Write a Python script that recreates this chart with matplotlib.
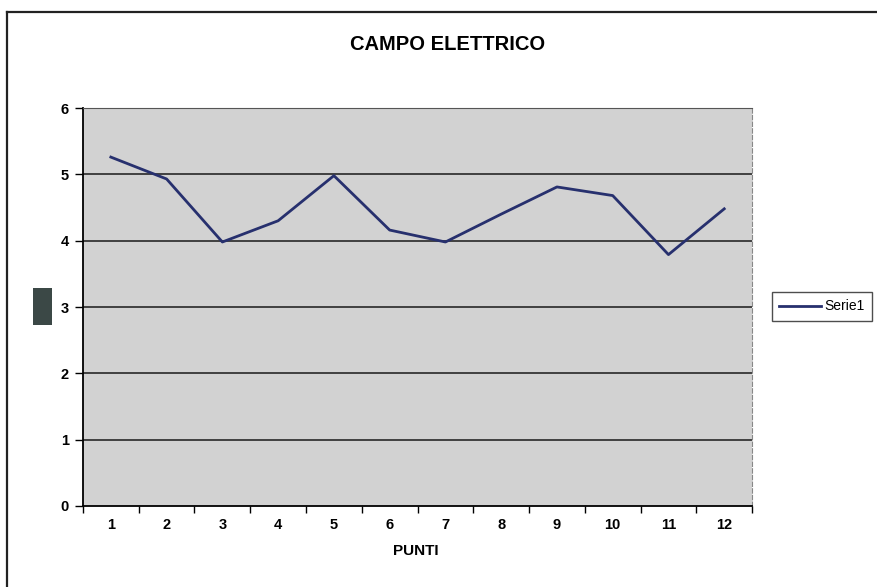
import numpy as np
import matplotlib.pyplot as plt
from matplotlib.patches import Rectangle
from matplotlib.lines import Line2D

plt.rcParams['font.family'] = ['Liberation Sans', 'DejaVu Sans']

punti = [1, 2, 3, 4, 5, 6, 7, 8, 9, 10, 11, 12]
serie1 = [5.26, 4.93, 3.98, 4.30, 4.98, 4.16, 3.98, 4.40, 4.81, 4.68, 3.79, 4.48]
y_ticks = [0, 1, 2, 3, 4, 5, 6]

fig = plt.figure(figsize=(8.77, 5.87), dpi=100)
ax = fig.add_axes([0.0946, 0.138, 0.763, 0.678])
ax.set_facecolor('#d2d2d2')

# horizontal grid
for v in y_ticks[1:-1]:
    ax.axhline(v, color='#1a1a1a', lw=1.1, zorder=1)

ax.plot(punti, serie1, color='#27306e', lw=2.0, zorder=3, label='Serie1')

ax.set_xlim(0.5, 12.5)
ax.set_ylim(0, 6)
ax.set_yticks(y_ticks)
ax.set_xticks(punti)
ax.set_xticks(np.arange(0.5, 13, 1), minor=True)
ax.tick_params(axis='x', which='major', length=0, pad=9, labelsize=10.5)
ax.tick_params(axis='x', which='minor', length=5, width=1.0, direction='out')
ax.tick_params(axis='y', length=6, width=1.0, direction='out', pad=4, labelsize=10.5)
for lab in ax.get_xticklabels() + ax.get_yticklabels():
    lab.set_fontweight('bold')

ax.spines['left'].set_linewidth(1.3)
ax.spines['bottom'].set_linewidth(1.3)
ax.spines['top'].set_color('#555555')
ax.spines['top'].set_linestyle((0, (6, 1)))
ax.spines['right'].set_color('#888888')
ax.spines['right'].set_linestyle((0, (4, 2)))
ax.spines['right'].set_linewidth(0.8)

xl = ax.set_xlabel('PUNTI', fontsize=11, fontweight='bold')
xl.set_fontstretch('expanded')
ax.xaxis.set_label_coords(0.498, -0.095)
fig.text(0.510, 1 - 45 / 587, 'CAMPO ELETTRICO', ha='center', va='center',
         fontsize=14.5, fontweight='bold')

leg = ax.legend(loc='center', bbox_to_anchor=(0.937, 0.478),
                bbox_transform=fig.transFigure, frameon=True, fancybox=False,
                fontsize=10, handlelength=3.0, handletextpad=0.2,
                borderpad=0.55, borderaxespad=0)
leg.get_frame().set_edgecolor('#222222')
leg.get_frame().set_linewidth(1.0)

# dark block on the left
fig.add_artist(Rectangle((33 / 877, 1 - 325 / 587), 19 / 877, 37 / 587,
                         transform=fig.transFigure, facecolor='#3b4846',
                         edgecolor='none'))

# chart frame
fig.add_artist(Line2D([7 / 877, 7 / 877], [0, 1 - 12 / 587],
                      transform=fig.transFigure, color='#222222', lw=1.6))
fig.add_artist(Line2D([7 / 877, 1], [1 - 12 / 587, 1 - 12 / 587],
                      transform=fig.transFigure, color='#222222', lw=1.6))

fig.savefig('out.png', dpi=100, facecolor='white')
